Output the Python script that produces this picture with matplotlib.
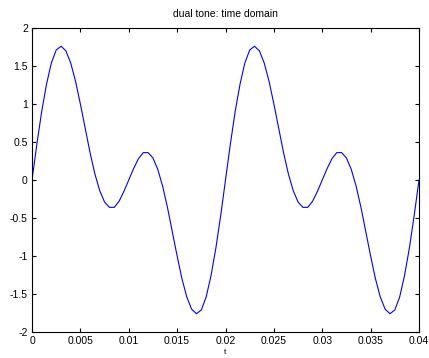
import matplotlib
matplotlib.use("Agg")
from matplotlib import pyplot as plt

# sample points, every 0.0005 s
t = [i * 0.0005 for i in range(81)]
y = [0.00, 0.47, 0.90, 1.26, 1.54, 1.71, 1.76, 1.70, 1.54, 1.30,
     1.00, 0.68, 0.36, 0.08, -0.14, -0.29, -0.36, -0.36, -0.28, -0.15,
     0.00, 0.15, 0.28, 0.36, 0.36, 0.29, 0.14, -0.08, -0.36, -0.68,
     -1.00, -1.30, -1.54, -1.70, -1.76, -1.71, -1.54, -1.26, -0.90, -0.47,
     0.00, 0.47, 0.90, 1.26, 1.54, 1.71, 1.76, 1.70, 1.54, 1.30,
     1.00, 0.68, 0.36, 0.08, -0.14, -0.29, -0.36, -0.36, -0.28, -0.15,
     0.00, 0.15, 0.28, 0.36, 0.36, 0.29, 0.14, -0.08, -0.36, -0.68,
     -1.00, -1.30, -1.54, -1.70, -1.76, -1.71, -1.54, -1.26, -0.90, -0.47,
     0.00]
xticks = [0, 0.005, 0.01, 0.015, 0.02, 0.025, 0.03, 0.035, 0.04]
xticklabels = ['0', '0.005', '0.01', '0.015', '0.02', '0.025', '0.03', '0.035', '0.04']
yticks = [-2, -1.5, -1, -0.5, 0, 0.5, 1, 1.5, 2]
yticklabels = ['-2', '-1.5', '-1', '-0.5', '0', '0.5', '1', '1.5', '2']

plt.rcParams['font.family'] = ['Liberation Sans', 'DejaVu Sans']
fig = plt.figure(figsize=(4.29, 3.58), dpi=100)
ax = fig.add_axes([32/429, 1 - 332/358, (419-32)/429, (332-28)/358])
ax.plot(t, y, color='#0000ff', linewidth=0.8)
ax.set_xlim(0, 0.04)
ax.set_ylim(-2, 2)
ax.set_xticks(xticks)
ax.set_xticklabels(xticklabels)
ax.set_yticks(yticks)
ax.set_yticklabels(yticklabels)
ax.tick_params(direction='in', top=True, right=True, labelsize=7.5, length=3, pad=3)
for s in ax.spines.values():
    s.set_linewidth(0.8)
ax.set_title('dual tone: time domain', fontsize=7.5, pad=8)
ax.set_xlabel('t', fontsize=6, labelpad=2)
fig.savefig('out.png', dpi=100)
